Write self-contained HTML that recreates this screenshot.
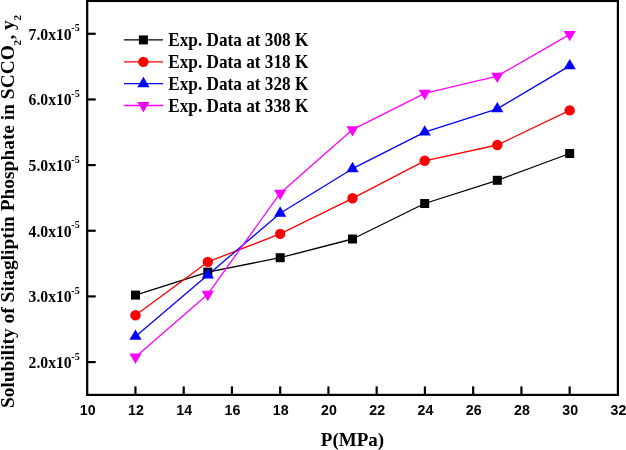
<!DOCTYPE html>
<html><head><meta charset="utf-8"><style>
html,body{margin:0;padding:0;background:#fff;width:626px;height:450px;overflow:hidden}
svg{display:block;will-change:transform}
text{fill:#000}
</style></head><body>
<svg width="626" height="450" viewBox="0 0 626 450">
<polyline points="135.50,295.10 207.80,272.10 280.20,257.70 352.50,239.00 424.70,203.50 497.30,180.30 569.70,153.50" fill="none" stroke="#000000" stroke-width="1.3" stroke-linejoin="round"/>
<polyline points="135.50,315.30 207.80,261.90 280.20,233.90 352.50,198.30 424.70,160.80 497.30,145.00 569.70,110.40" fill="none" stroke="#ff0000" stroke-width="1.3" stroke-linejoin="round"/>
<polyline points="135.50,336.40 207.80,275.00 280.20,213.20 352.50,168.70 424.70,132.10 497.30,108.90 569.70,65.90" fill="none" stroke="#0000ff" stroke-width="1.3" stroke-linejoin="round"/>
<polyline points="135.50,357.00 207.80,294.20 280.20,193.20 352.50,129.60 424.70,93.30 497.30,76.10 569.70,34.40" fill="none" stroke="#ff00ff" stroke-width="1.3" stroke-linejoin="round"/>
<rect x="131.00" y="290.60" width="9.0" height="9.0" fill="#000000"/>
<rect x="203.30" y="267.60" width="9.0" height="9.0" fill="#000000"/>
<rect x="275.70" y="253.20" width="9.0" height="9.0" fill="#000000"/>
<rect x="348.00" y="234.50" width="9.0" height="9.0" fill="#000000"/>
<rect x="420.20" y="199.00" width="9.0" height="9.0" fill="#000000"/>
<rect x="492.80" y="175.80" width="9.0" height="9.0" fill="#000000"/>
<rect x="565.20" y="149.00" width="9.0" height="9.0" fill="#000000"/>
<circle cx="135.50" cy="315.30" r="5.2" fill="#ff0000"/>
<circle cx="207.80" cy="261.90" r="5.2" fill="#ff0000"/>
<circle cx="280.20" cy="233.90" r="5.2" fill="#ff0000"/>
<circle cx="352.50" cy="198.30" r="5.2" fill="#ff0000"/>
<circle cx="424.70" cy="160.80" r="5.2" fill="#ff0000"/>
<circle cx="497.30" cy="145.00" r="5.2" fill="#ff0000"/>
<circle cx="569.70" cy="110.40" r="5.2" fill="#ff0000"/>
<polygon points="135.50,329.47 129.40,339.87 141.60,339.87" fill="#0000ff"/>
<polygon points="207.80,268.07 201.70,278.47 213.90,278.47" fill="#0000ff"/>
<polygon points="280.20,206.27 274.10,216.67 286.30,216.67" fill="#0000ff"/>
<polygon points="352.50,161.77 346.40,172.17 358.60,172.17" fill="#0000ff"/>
<polygon points="424.70,125.17 418.60,135.57 430.80,135.57" fill="#0000ff"/>
<polygon points="497.30,101.97 491.20,112.37 503.40,112.37" fill="#0000ff"/>
<polygon points="569.70,58.97 563.60,69.37 575.80,69.37" fill="#0000ff"/>
<polygon points="135.50,363.93 129.40,353.53 141.60,353.53" fill="#ff00ff"/>
<polygon points="207.80,301.13 201.70,290.73 213.90,290.73" fill="#ff00ff"/>
<polygon points="280.20,200.13 274.10,189.73 286.30,189.73" fill="#ff00ff"/>
<polygon points="352.50,136.53 346.40,126.13 358.60,126.13" fill="#ff00ff"/>
<polygon points="424.70,100.23 418.60,89.83 430.80,89.83" fill="#ff00ff"/>
<polygon points="497.30,83.03 491.20,72.63 503.40,72.63" fill="#ff00ff"/>
<polygon points="569.70,41.33 563.60,30.93 575.80,30.93" fill="#ff00ff"/>
<rect x="87.2" y="0.95" width="530.70" height="393.95" fill="none" stroke="#000" stroke-width="2.2"/>
<line x1="135.45" y1="394.9" x2="135.45" y2="386.4" stroke="#000" stroke-width="2.2"/>
<line x1="183.69" y1="394.9" x2="183.69" y2="386.4" stroke="#000" stroke-width="2.2"/>
<line x1="231.94" y1="394.9" x2="231.94" y2="386.4" stroke="#000" stroke-width="2.2"/>
<line x1="280.18" y1="394.9" x2="280.18" y2="386.4" stroke="#000" stroke-width="2.2"/>
<line x1="328.43" y1="394.9" x2="328.43" y2="386.4" stroke="#000" stroke-width="2.2"/>
<line x1="376.67" y1="394.9" x2="376.67" y2="386.4" stroke="#000" stroke-width="2.2"/>
<line x1="424.92" y1="394.9" x2="424.92" y2="386.4" stroke="#000" stroke-width="2.2"/>
<line x1="473.16" y1="394.9" x2="473.16" y2="386.4" stroke="#000" stroke-width="2.2"/>
<line x1="521.41" y1="394.9" x2="521.41" y2="386.4" stroke="#000" stroke-width="2.2"/>
<line x1="569.65" y1="394.9" x2="569.65" y2="386.4" stroke="#000" stroke-width="2.2"/>
<line x1="87.2" y1="362.07" x2="95.7" y2="362.07" stroke="#000" stroke-width="2.2"/>
<line x1="87.2" y1="296.41" x2="95.7" y2="296.41" stroke="#000" stroke-width="2.2"/>
<line x1="87.2" y1="230.75" x2="95.7" y2="230.75" stroke="#000" stroke-width="2.2"/>
<line x1="87.2" y1="165.10" x2="95.7" y2="165.10" stroke="#000" stroke-width="2.2"/>
<line x1="87.2" y1="99.44" x2="95.7" y2="99.44" stroke="#000" stroke-width="2.2"/>
<line x1="87.2" y1="33.78" x2="95.7" y2="33.78" stroke="#000" stroke-width="2.2"/>
<text transform="translate(87.70,414.9) scale(1,1.09)" text-anchor="middle" font-family="Liberation Sans" font-weight="bold" font-size="14.2">10</text>
<text transform="translate(135.95,414.9) scale(1,1.09)" text-anchor="middle" font-family="Liberation Sans" font-weight="bold" font-size="14.2">12</text>
<text transform="translate(184.19,414.9) scale(1,1.09)" text-anchor="middle" font-family="Liberation Sans" font-weight="bold" font-size="14.2">14</text>
<text transform="translate(232.44,414.9) scale(1,1.09)" text-anchor="middle" font-family="Liberation Sans" font-weight="bold" font-size="14.2">16</text>
<text transform="translate(280.68,414.9) scale(1,1.09)" text-anchor="middle" font-family="Liberation Sans" font-weight="bold" font-size="14.2">18</text>
<text transform="translate(328.93,414.9) scale(1,1.09)" text-anchor="middle" font-family="Liberation Sans" font-weight="bold" font-size="14.2">20</text>
<text transform="translate(377.17,414.9) scale(1,1.09)" text-anchor="middle" font-family="Liberation Sans" font-weight="bold" font-size="14.2">22</text>
<text transform="translate(425.42,414.9) scale(1,1.09)" text-anchor="middle" font-family="Liberation Sans" font-weight="bold" font-size="14.2">24</text>
<text transform="translate(473.66,414.9) scale(1,1.09)" text-anchor="middle" font-family="Liberation Sans" font-weight="bold" font-size="14.2">26</text>
<text transform="translate(521.91,414.9) scale(1,1.09)" text-anchor="middle" font-family="Liberation Sans" font-weight="bold" font-size="14.2">28</text>
<text transform="translate(570.15,414.9) scale(1,1.09)" text-anchor="middle" font-family="Liberation Sans" font-weight="bold" font-size="14.2">30</text>
<text transform="translate(618.40,414.9) scale(1,1.09)" text-anchor="middle" font-family="Liberation Sans" font-weight="bold" font-size="14.2">32</text>
<text x="71.7" y="368.07" text-anchor="end" font-family="Liberation Serif" font-weight="bold" font-size="15.7">2.0x10</text>
<text x="71.3" y="359.77" font-family="Liberation Serif" font-weight="bold" font-size="10">-5</text>
<text x="71.7" y="302.41" text-anchor="end" font-family="Liberation Serif" font-weight="bold" font-size="15.7">3.0x10</text>
<text x="71.3" y="294.11" font-family="Liberation Serif" font-weight="bold" font-size="10">-5</text>
<text x="71.7" y="236.75" text-anchor="end" font-family="Liberation Serif" font-weight="bold" font-size="15.7">4.0x10</text>
<text x="71.3" y="228.45" font-family="Liberation Serif" font-weight="bold" font-size="10">-5</text>
<text x="71.7" y="171.10" text-anchor="end" font-family="Liberation Serif" font-weight="bold" font-size="15.7">5.0x10</text>
<text x="71.3" y="162.80" font-family="Liberation Serif" font-weight="bold" font-size="10">-5</text>
<text x="71.7" y="105.44" text-anchor="end" font-family="Liberation Serif" font-weight="bold" font-size="15.7">6.0x10</text>
<text x="71.3" y="97.14" font-family="Liberation Serif" font-weight="bold" font-size="10">-5</text>
<text x="71.7" y="39.78" text-anchor="end" font-family="Liberation Serif" font-weight="bold" font-size="15.7">7.0x10</text>
<text x="71.3" y="31.48" font-family="Liberation Serif" font-weight="bold" font-size="10">-5</text>
<text x="352.5" y="445.9" text-anchor="middle" font-family="Liberation Serif" font-weight="bold" font-size="19">P(MPa)</text>
<g transform="translate(13.7,408.1) rotate(-90)" font-family="Liberation Serif" font-weight="bold" font-size="19.42"><text x="0" y="0">Solubility of Sitagliptin Phosphate in SCCO</text><text x="362.6" y="7.2" font-size="11">2</text><text x="368.6" y="0">,</text><text x="378.05" y="0">y</text><text x="387.5" y="7.2" font-size="11">2</text></g>
<line x1="124" y1="39.9" x2="163" y2="39.9" stroke="#000000" stroke-width="1.3"/>
<rect x="138.90" y="35.40" width="9.0" height="9.0" fill="#000000"/>
<text transform="translate(168.3,45.90) scale(1,1.06)" font-family="Liberation Serif" font-weight="bold" font-size="17.2">Exp. Data at 308 K</text>
<line x1="124" y1="61.9" x2="163" y2="61.9" stroke="#ff0000" stroke-width="1.3"/>
<circle cx="143.40" cy="61.90" r="5.2" fill="#ff0000"/>
<text transform="translate(168.3,67.90) scale(1,1.06)" font-family="Liberation Serif" font-weight="bold" font-size="17.2">Exp. Data at 318 K</text>
<line x1="124" y1="83.7" x2="163" y2="83.7" stroke="#0000ff" stroke-width="1.3"/>
<polygon points="143.40,76.77 137.30,87.17 149.50,87.17" fill="#0000ff"/>
<text transform="translate(168.3,89.70) scale(1,1.06)" font-family="Liberation Serif" font-weight="bold" font-size="17.2">Exp. Data at 328 K</text>
<line x1="124" y1="105.5" x2="163" y2="105.5" stroke="#ff00ff" stroke-width="1.3"/>
<polygon points="143.40,112.43 137.30,102.03 149.50,102.03" fill="#ff00ff"/>
<text transform="translate(168.3,111.50) scale(1,1.06)" font-family="Liberation Serif" font-weight="bold" font-size="17.2">Exp. Data at 338 K</text>
</svg>
</body></html>
